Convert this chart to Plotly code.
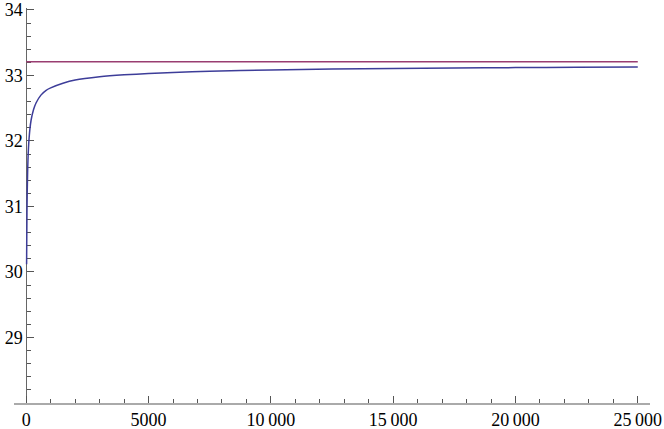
"""Convergence of a sequence towards its limit (Mathematica-style plot)"""
import plotly.graph_objects as go

# Values
curve_x = [15, 20, 30, 40, 60, 80, 100, 150, 200, 300, 400, 600, 800, 1000,
           1500, 2000, 3000, 4000, 5000, 6000, 7500, 10000, 12500, 15000,
           17500, 20000, 22500, 25000]
curve_y = [30.12, 30.40, 30.90, 31.21, 31.58, 31.80, 31.95, 32.18, 32.32,
           32.48, 32.58, 32.70, 32.77, 32.81, 32.88, 32.93, 32.98, 33.01,
           33.03, 33.047, 33.065, 33.085, 33.097, 33.107, 33.115, 33.12,
           33.125, 33.13]

limit_x = [0, 25000]
limit_y = [33.21, 33.21]

x_ticks = [0, 5000, 10000, 15000, 20000, 25000]
x_labels = ["0", "5000", "10\u2009000", "15\u2009000", "20\u2009000", "25\u2009000"]
y_ticks = [29, 30, 31, 32, 33, 34]
y_labels = ["29", "30", "31", "32", "33", "34"]

x_minor = [v for v in range(1000, 25001, 1000) if v % 5000]
y_minor = [round(28 + 0.2 * i, 1) for i in range(1, 31) if i % 5]

fig = go.Figure()

fig.add_trace(go.Scatter(
	x=curve_x, y=curve_y, mode="lines",
	line=dict(color="#3d3d99", width=1.5, shape="spline", smoothing=0.6),
	hoverinfo="skip"
))
fig.add_trace(go.Scatter(
	x=limit_x, y=limit_y, mode="lines",
	line=dict(color="#993d71", width=1.5),
	hoverinfo="skip"
))

serif = "Liberation Serif"
tick_font = dict(family=serif, size=18, color="black")

fig.update_layout(
	width=664, height=429,
	margin=dict(l=14, r=14, t=8, b=26),
	font=dict(family=serif, size=18, color="black"),
	plot_bgcolor="white", paper_bgcolor="white",
	showlegend=False,
	xaxis=dict(
		range=[-500, 25500], automargin=False, layer="below traces",
		showgrid=False, zeroline=False,
		showline=True, linecolor="#aaaaaa", linewidth=1.5,
		tickmode="array", tickvals=x_ticks, ticktext=x_labels,
		ticks="inside", ticklen=7, tickcolor="#555555", tickwidth=1,
		minor=dict(tickmode="array", tickvals=x_minor, ticks="inside",
				   ticklen=4, tickcolor="#555555", tickwidth=1),
		tickfont=tick_font,
	),
	yaxis=dict(
		range=[28, 34.03], automargin=False, layer="below traces",
		anchor="free", position=500 / 26000,
		showgrid=False, zeroline=False,
		showline=True, linecolor="#666666", linewidth=1,
		tickmode="array", tickvals=y_ticks, ticktext=y_labels,
		ticks="inside", ticklen=7, tickcolor="#555555", tickwidth=1,
		minor=dict(tickmode="array", tickvals=y_minor, ticks="inside",
				   ticklen=4, tickcolor="#555555", tickwidth=1),
		tickfont=tick_font,
	),
)

# la page par défaut a une marge de 8px sur le body
fig.write_html("out.html", config={"displayModeBar": False},
			   post_script="document.body.style.margin='0';")
